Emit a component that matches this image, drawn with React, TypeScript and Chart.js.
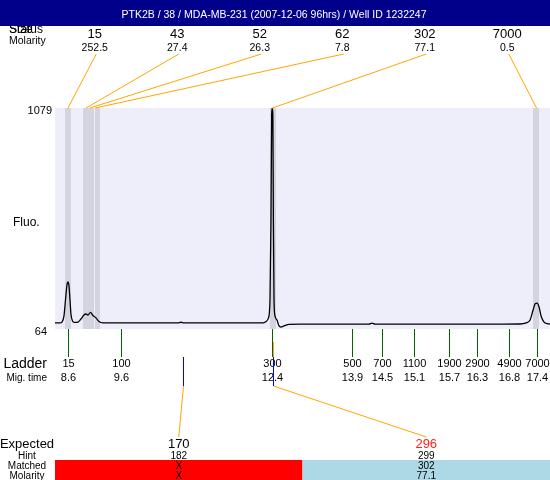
import React, { useEffect, useRef } from 'react';
import { Chart, registerables } from 'chart.js';

Chart.register(...registerables);

const TITLE = 'PTK2B / 38 / MDA-MB-231 (2007-12-06 96hrs) / Well ID 1232247';

// Electropherogram trace: migration time (s) vs fluorescence
const migTime = [
  8.356, 8.45, 8.487, 8.525, 8.553, 8.581, 8.6, 8.619, 8.638, 8.656, 8.685, 8.732, 8.788,
  8.844, 8.901, 8.938, 8.976, 9.023, 9.07, 9.127, 9.183, 9.258, 9.39, 9.954, 10.668, 10.725,
  10.781, 11.458, 12.116, 12.267, 12.323, 12.37, 12.398, 12.417, 12.43, 12.44, 12.452,
  12.462, 12.474, 12.492, 12.53, 12.568, 12.605, 12.662, 12.756, 12.963, 13.715, 14.26,
  14.317, 14.373, 15.219, 16.347, 17.1, 17.213, 17.288, 17.345, 17.382, 17.42, 17.457,
  17.495, 17.551, 17.608, 17.663,
];
const fluorescence = [
  92, 92, 96, 124, 197, 266, 280, 262, 197, 133, 101, 94, 96,
  110, 128, 133, 128, 140, 126, 115, 98, 92, 92, 92, 92, 95,
  92, 92, 92, 92, 98, 115, 197, 565, 1050, 1079, 1050,
  565, 197, 124, 105, 78, 73, 78, 85, 86, 86, 86,
  91, 86, 86, 86, 87, 92, 105, 151, 179, 183, 165,
  124, 96, 89, 87,
];

const yMin = 64;
const yMax = 1079;
const yLabel = 'Fluo.';

// Detected peaks
const peakSizes = ['15', '43', '52', '62', '302', '7000'];
const peakMolarity = ['252.5', '27.4', '26.3', '7.8', '77.1', '0.5'];
const peakTimes = [8.6, 8.94, 9.01, 9.11, 12.445, 17.41];
const peakStart = [8.544, 8.882, 8.995, 9.108, 12.398, 17.345];
const peakEnd = [8.656, 8.995, 9.089, 9.202, 12.511, 17.457];

// Ladder
const ladderSizes = ['15', '100', '300', '500', '700', '1100', '1900', '2900', '4900', '7000'];
const ladderTimes = [8.6, 9.597, 12.445, 13.94, 14.504, 15.106, 15.764, 16.29, 16.892, 17.41];
const ladderTimeLabels = ['8.6', '9.6', '12.4', '13.9', '14.5', '15.1', '15.7', '16.3', '16.8', '17.4'];

// Expected fragments
const expectedSizes = ['170', '296'];
const expectedTimes = [10.762, 12.455];
const hintSizes = ['182', '299'];
const matchedSizes = ['X', '302'];
const matchedMolarity = ['X', '77.1'];
const matchedFound = [false, true];

const FONT = '"Liberation Sans", Arial, Helvetica, sans-serif';

export default function App() {
  const ref = useRef<HTMLCanvasElement>(null);

  useEffect(() => {
    const canvas = ref.current;
    if (!canvas) return;

    const text = (
      ctx: CanvasRenderingContext2D,
      s: string,
      x: number,
      y: number,
      size: number,
      align: CanvasTextAlign = 'center',
      color = '#000'
    ) => {
      ctx.font = `${size}px ${FONT}`;
      ctx.textAlign = align;
      ctx.textBaseline = 'alphabetic';
      ctx.fillStyle = color;
      ctx.fillText(s, x, y);
    };
    const line = (ctx: CanvasRenderingContext2D, pts: number[][], color: string, w = 1) => {
      ctx.beginPath();
      ctx.strokeStyle = color;
      ctx.lineWidth = w;
      pts.forEach((p, i) => (i === 0 ? ctx.moveTo(p[0], p[1]) : ctx.lineTo(p[0], p[1])));
      ctx.stroke();
    };

    const overlay = {
      id: 'overlay',
      beforeDatasetsDraw(chart: any) {
        const { ctx, chartArea: a, scales } = chart;
        const xs = scales.x;
        ctx.save();
        ctx.fillStyle = '#EEEEFB';
        ctx.fillRect(a.left, a.top, a.right - a.left, a.bottom - a.top);
        ctx.fillStyle = '#D4D4E0';
        for (let i = 0; i < peakStart.length; i++) {
          const x0 = Math.round(xs.getPixelForValue(peakStart[i]));
          const x1 = Math.round(xs.getPixelForValue(peakEnd[i]));
          ctx.fillRect(x0, a.top, x1 - x0, a.bottom - a.top);
        }
        ctx.restore();
      },
      afterDraw(chart: any) {
        const { ctx, chartArea: a, scales } = chart;
        const xs = scales.x;
        const W = chart.width;
        ctx.save();

        // header labels (partly hidden by title bar)
        text(ctx, 'Size', 9, 33, 12, 'left');
        text(ctx, 'Status', 9, 33, 12, 'left');
        text(ctx, 'Molarity', 9, 44, 10.5, 'left');

        // title bar
        ctx.fillStyle = '#00008B';
        ctx.fillRect(0, 0, W, 26);
        text(ctx, TITLE, 274, 17.5, 10.5, 'center', '#fff');

        // peak labels + connectors
        const n = peakSizes.length;
        const colW = (a.right - a.left) / n;
        for (let i = 0; i < n; i++) {
          const cx = a.left + (i + 0.5) * colW - 1.5;
          text(ctx, peakSizes[i], cx, 38, 13);
          text(ctx, peakMolarity[i], cx, 51, 10.5);
          const px = xs.getPixelForValue(peakTimes[i]);
          line(ctx, [[cx + 1.5, 54], [px, a.top]], '#FFA500');
        }

        // y labels
        text(ctx, String(yMax), 52, 114, 11, 'right');
        text(ctx, String(yMin), 47, 335, 11, 'right');
        text(ctx, yLabel, 13, 226, 12, 'left');

        // ladder
        text(ctx, 'Ladder', 47, 368, 14, 'right');
        text(ctx, 'Mig. time', 47, 381, 10, 'right');
        for (let i = 0; i < ladderSizes.length; i++) {
          const px = Math.round(xs.getPixelForValue(ladderTimes[i])) + 0.5;
          line(ctx, [[px, a.bottom], [px, 357]], '#006400');
          text(ctx, ladderSizes[i], px, 367, 11);
          text(ctx, ladderTimeLabels[i], px, 381, 11);
        }

        // expected fragments: connectors and markers
        const m = expectedSizes.length;
        const tW = (a.right - a.left) / m;
        for (let i = 0; i < m; i++) {
          const px = Math.round(xs.getPixelForValue(expectedTimes[i])) + 0.5;
          const cx = a.left + (i + 0.5) * tW;
          const topY = matchedFound[i] ? 342 : 357;
          line(ctx, [[px, topY], [px, 386], [cx, 437]], '#FFA500');
          line(ctx, [[px, 357], [px, 386]], '#0000FF');
        }

        // table
        text(ctx, 'Expected', 27, 448, 13);
        text(ctx, 'Hint', 27, 458.5, 10);
        text(ctx, 'Matched', 27, 468.5, 10);
        text(ctx, 'Molarity', 27, 478.5, 10);
        for (let i = 0; i < m; i++) {
          const x0 = a.left + i * tW;
          const cx = x0 + tW / 2;
          ctx.fillStyle = matchedFound[i] ? '#ADD8E6' : '#FF0000';
          ctx.fillRect(x0, 460, tW, 20);
          text(ctx, expectedSizes[i], cx, 448, 13, 'center', matchedFound[i] ? '#FF2020' : '#000');
          text(ctx, hintSizes[i], cx, 458.5, 10);
          text(ctx, matchedSizes[i], cx, 468.5, 10);
          text(ctx, matchedMolarity[i], cx, 478.5, 10);
        }
        ctx.restore();
      },
    };

    const chart = new Chart(canvas, {
      type: 'line',
      data: {
        datasets: [
          {
            data: migTime.map((t, i) => ({ x: t, y: fluorescence[i] })),
            borderColor: '#000',
            borderWidth: 1.3,
            pointRadius: 0,
            fill: false,
            cubicInterpolationMode: 'monotone',
          },
        ],
      },
      options: {
        responsive: false,
        animation: false,
        events: [],
        layout: { padding: { left: 55, right: 0, top: 108, bottom: 151 } },
        scales: {
          x: { type: 'linear', min: 8.356, max: 17.663, display: false },
          y: { type: 'linear', min: yMin, max: yMax, display: false },
        },
        plugins: { legend: { display: false }, tooltip: { enabled: false }, title: { display: false } },
      },
      plugins: [overlay],
    } as any);

    return () => chart.destroy();
  }, []);

  return (
    <div style={{ position: 'fixed', left: 0, top: 0, width: 550, height: 480, background: '#fff' }}>
      <canvas ref={ref} width={550} height={480} style={{ display: 'block', width: 550, height: 480 }} />
    </div>
  );
}
